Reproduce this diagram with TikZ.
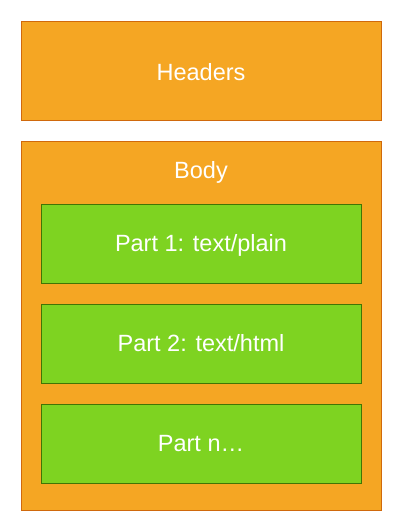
\documentclass[tikz,border=0pt]{standalone}
\usepackage{fontspec}
\setmainfont{Liberation Sans}
\usepackage{tikz}
\definecolor{boxorange}{HTML}{F5A623}
\definecolor{lineorange}{HTML}{D0690C}
\definecolor{boxgreen}{HTML}{7ED321}
\definecolor{linegreen}{HTML}{417505}
\begin{document}
\begin{tikzpicture}[x=1pt,y=-1pt,
	txt/.style = {text=white,font=\fontsize{23.5}{27}\selectfont,text height=16.8pt,text depth=0pt},
	outer/.style = {draw=lineorange,fill=boxorange,line width=1pt,minimum width=360pt,inner sep=0pt},
	part/.style = {draw=linegreen,fill=boxgreen,line width=1pt,minimum width=320pt,minimum height=79pt,inner sep=0pt,txt}
	]
	\useasboundingbox (0,0) rectangle (400,530);
	%BLOCCHI ESTERNI
	\node[outer,minimum height=99pt] (headers) at (201,70.5) {};
	\node[txt] (headerslabel) at (201,72.5) {Headers};
	\node[outer,minimum height=369pt] (body) at (201,325.5) {};
	\node[txt] (bodylabel) at (201,170.5) {Body};
	%PARTI
	\node[part] (part1) at (201,243.5) {Part 1: text/plain};
	\node[part] (part2) at (201,343.5) {Part 2: text/html};
	\node[part] (partn) at (201,443.5) {Part n\dots};
\end{tikzpicture}
\end{document}
